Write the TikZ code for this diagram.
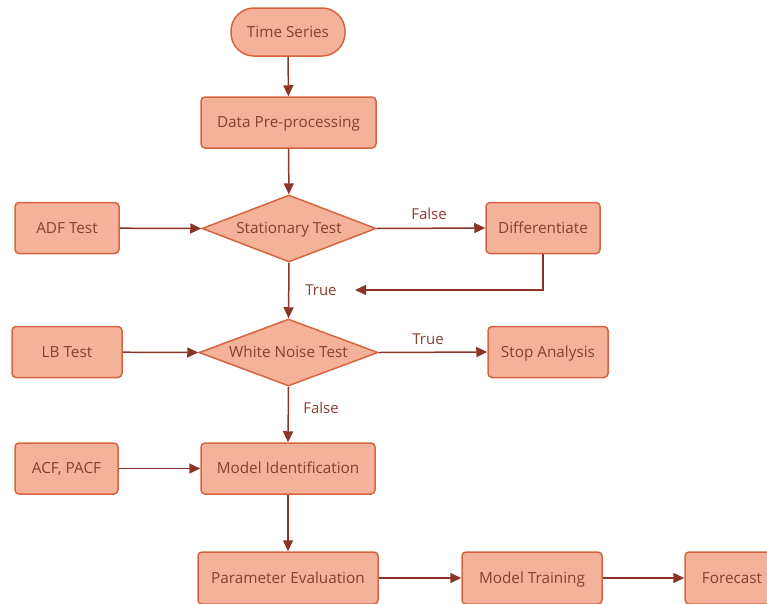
\documentclass[tikz,border=0pt]{standalone}
\usepackage{fontspec}
\setmainfont{Open Sans}
\usetikzlibrary{arrows.meta,shapes.geometric}
\definecolor{boxfill}{HTML}{F5B29B}
\definecolor{boxline}{HTML}{D6653F}
\definecolor{txt}{HTML}{8A3D30}
\definecolor{conn}{HTML}{8B3428}
\tikzset{
  base/.style={draw=boxline,fill=boxfill,line width=1.5pt,text=txt,font=\fontsize{15.3}{17}\selectfont,inner sep=0pt,text height=10pt,text depth=0pt},
  box/.style={base,rectangle,rounded corners=4pt},
  pill/.style={base,rectangle,rounded corners=23pt},
  decision/.style={base,diamond,aspect=2.6},
  conn/.style={draw=conn,line width=1.5pt,-{Triangle[length=11pt,width=10pt]}},
  lbl/.style={text=txt,font=\fontsize{15}{17}\selectfont,inner sep=0pt}
}
\begin{document}
\begin{tikzpicture}[x=1pt,y=-1pt]
\useasboundingbox (0,0) rectangle (767,603);
\clip (0,0) rectangle (767,603);
\node[pill,minimum width=114pt,minimum height=48pt] (ts) at (288,32) {Time Series};
\node[box,minimum width=175pt,minimum height=51pt] (dp) at (288.5,122.5) {Data Pre-processing};
\node[decision,minimum width=174pt,minimum height=67pt] (st) at (289,228.5) {Stationary Test};
\node[box,minimum width=104pt,minimum height=51pt] (adf) at (67,228) {ADF Test};
\node[box,minimum width=114pt,minimum height=51pt] (diff) at (543,228) {Differentiate};
\node[decision,minimum width=179pt,minimum height=67pt] (wn) at (288.5,352.5) {White Noise Test};
\node[box,minimum width=110pt,minimum height=51pt] (lb) at (67,352) {LB Test};
\node[box,minimum width=120pt,minimum height=51pt] (stop) at (548,352) {Stop Analysis};
\node[box,minimum width=174pt,minimum height=51pt] (mi) at (288,468.5) {Model Identification};
\node[box,minimum width=103pt,minimum height=51pt] (acf) at (66.5,468.5) {ACF, PACF};
\node[box,minimum width=180pt,minimum height=52pt] (pe) at (288,578) {Parameter Evaluation};
\node[box,minimum width=140pt,minimum height=52pt] (mt) at (532,578) {Model Training};
\node[box,minimum width=94pt,minimum height=52pt] (fc) at (732,578) {Forecast};
\coordinate (loopend) at (355,290);
\node[lbl] (lfalse1) at (429,214) {False};
\node[lbl] (ltrue1) at (321,290) {True};
\node[lbl] (ltrue2) at (428,339) {True};
\node[lbl] (lfalse2) at (321,408) {False};
\draw[conn] (ts) -- (dp);
\draw[conn] (dp) -- (st);
\draw[conn] (adf) -- (st.west);
\draw[conn] (st.east) -- (diff.west);
\draw[conn] (diff.south) |- (loopend);
\draw[conn] (st.south) -- (wn.north);
\draw[conn] (lb) -- (wn.west);
\draw[conn] (wn.east) -- (stop.west);
\draw[conn] (wn.south) -- (mi.north);
\draw[conn] (acf) -- (mi.west);
\draw[conn] (mi) -- (pe);
\draw[conn] (pe) -- (mt);
\draw[conn] (mt) -- (fc);
\end{tikzpicture}
\end{document}
